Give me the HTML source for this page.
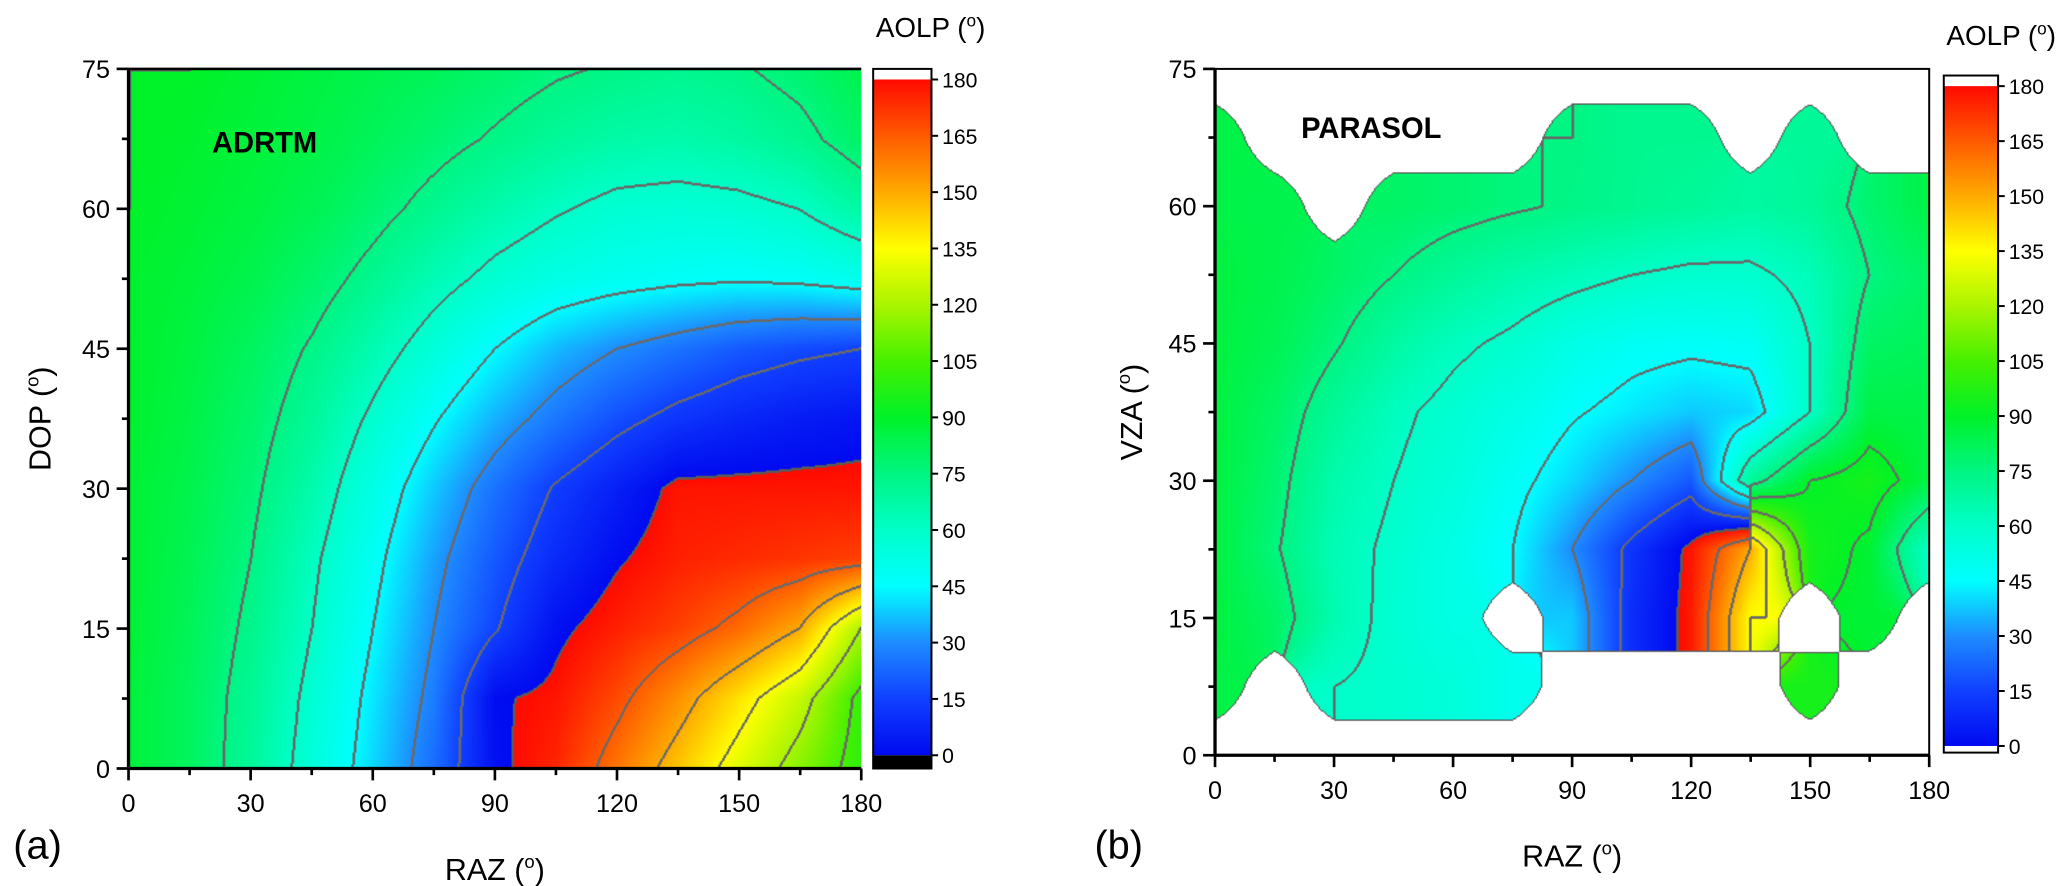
<!DOCTYPE html>
<html><head><meta charset="utf-8">
<style>
html,body{margin:0;padding:0;background:#fff;}
body{width:2067px;height:886px;overflow:hidden;position:relative;font-family:"Liberation Sans",Arial,sans-serif;}
#wrap{position:absolute;left:0;top:0;width:1560px;height:669px;transform:scale(1.325);transform-origin:0 0;}
canvas{position:absolute;}
svg{position:absolute;left:0;top:0;}
</style></head>
<body>
<div id="wrap">
<canvas id="cA" width="553" height="528" style="left:97px;top:52px"></canvas>
<canvas id="cB" width="539" height="518" style="left:917px;top:52px"></canvas>
<svg id="ov" width="1560" height="669"></svg>
</div>
<script>
// AOLP values (deg) on grid: rows DOP/VZA 75 -> 0 step 7.5, cols RAZ 0 -> 180 step 15
const razCols=[0,15,30,45,60,75,90,105,120,135,150,165,180];
const zaRows=[75,67.5,60,52.5,45,37.5,30,22.5,15,7.5,0];
const adrtm=[
[90,90,88,86,84,82,79,76,74,72,74,78,84],
[90,89,87,85,82,78,74,70,67,66,68,72,80],
[90,88,86,83,78,72,66,61,57,56,57,60,68],
[89,87,84,79,72,64,57,52,49,47,46,47,50],
[89,86,81,74,65,55,45,36,30,25,20,17,15],
[89,85,79,70,58,46,35,26,18,12,8,5,3],
[88,84,77,66,52,38,25,14,6,178,178,178,178],
[88,83,75,62,48,33,20,9,1,176,174,172,170],
[88,82,73,60,45,30,16,2,176,170,162,150,120],
[87,81,71,57,42,27,1,178,168,155,140,125,102],
[87,81,70,55,40,24,2,175,160,145,130,115,100]];
const parasol=[
[null,null,null,null,null,null,null,null,null,null,null,null,null],
[85,null,null,null,null,null,75,72,72,null,70,null,null],
[85,84,null,80,78,76,74,72,70,68,70,78,85],
[86,84,80,75,70,66,63,60,58,58,63,75,80],
[86,83,76,68,62,58,52,48,47,48,60,80,82],
[86,80,70,62,57,52,46,42,38,40,60,85,85],
[86,78,66,60,55,48,40,30,20,70,90,95,85],
[86,76,64,58,52,45,30,12,178,150,95,88,60],
[86,80,65,57,52,null,38,10,177,135,null,88,null],
[85,null,60,58,55,50,null,null,null,null,95,null,null],
[null,null,null,null,null,null,null,null,null,null,null,null,null]];
const xTicks=[0,30,60,90,120,150,180];
const yTicks=[0,15,30,45,60,75];
const cbTicks=[0,15,30,45,60,75,90,105,120,135,150,165,180];

const stops=[[0,[0,10,240]],[15,[16,64,255]],[30,[30,140,255]],[45,[0,255,255]],[60,[0,255,200]],[75,[0,245,130]],[90,[0,242,40]],[105,[70,240,0]],[120,[170,245,0]],[135,[255,255,0]],[150,[255,170,0]],[165,[255,90,0]],[180,[255,10,0]]];
function cmap(v){v=Math.max(0,Math.min(180,v));for(let i=0;i<stops.length-1;i++){const a=stops[i],b=stops[i+1];if(v<=b[0]){const t=(v-a[0])/(b[0]-a[0]);return a[1].map((c,k)=>Math.round(c+(b[1][k]-c)*t));}}return stops[stops.length-1][1];}

function sample(grid,x,y){
  const fx=x/15, fy=(75-y)/7.5;
  let i=Math.min(11,Math.floor(fx)), j=Math.min(9,Math.floor(fy));
  const tx=fx-i, ty=fy-j;
  const c=[grid[j][i],grid[j][i+1],grid[j+1][i],grid[j+1][i+1]];
  const w=[(1-tx)*(1-ty),tx*(1-ty),(1-tx)*ty,tx*ty];
  let m=0;const nn=[];
  for(let k=0;k<4;k++)if(c[k]!==null){m+=w[k];nn.push(c[k]);}
  if(m<0.5) return null;
  const wrap=Math.max(...nn)-Math.min(...nn)>90;
  let s=0;
  for(let k=0;k<4;k++)if(c[k]!==null){let v=c[k];if(wrap&&v<90)v+=180;s+=v*w[k];}
  let v=s/m; if(v>=180)v-=180;
  return v;
}
function render(id,grid){
  const cv=document.getElementById(id),W=cv.width,H=cv.height,ctx=cv.getContext('2d');
  const img=ctx.createImageData(W,H),V=new Float32Array(W*H),G=new Uint8Array(W*H);
  for(let py=0;py<H;py++)for(let px=0;px<W;px++){
    const v=sample(grid,180*px/(W-1),75*(1-py/(H-1)));V[py*W+px]=(v===null?NaN:v);}
  for(let py=0;py<H;py++)for(let px=0;px<W;px++){
    const k=py*W+px,v=V[k];if(isNaN(v))continue;
    const nb=[];if(px<W-1)nb.push(k+1);if(py<H-1)nb.push(k+W);if(px>0)nb.push(k-1);if(py>0)nb.push(k-W);
    for(const q of nb){const n=V[q];
      if(isNaN(n)){G[k]=2;}
      else if(Math.abs(n-v)>90){G[k]=2;}
      else if(q>k&&Math.floor(n/15)!==Math.floor(v/15)){if(!G[k])G[k]=1;if(!G[q])G[q]=1;}}
  }
  for(let k=0;k<W*H;k++){
    const v=V[k];let col;
    if(isNaN(v))col=[255,255,255];
    else if(G[k]===2)col=[90,90,90];
    else if(G[k]===1)col=[105,105,105];
    else col=cmap(v);
    img.data[k*4]=col[0];img.data[k*4+1]=col[1];img.data[k*4+2]=col[2];img.data[k*4+3]=255;
  }
  ctx.putImageData(img,0,0);
}
render('cA',adrtm);render('cB',parasol);

const NS='http://www.w3.org/2000/svg',svg=document.getElementById('ov');
function el(t,a,txt){const e=document.createElementNS(NS,t);for(const k in a)e.setAttribute(k,a[k]);if(txt!==undefined)e.textContent=txt;svg.appendChild(e);return e;}

function axes(p){
  const xs=v=>p.x0+(p.x1-p.x0)*v/180, ys=v=>p.y1-(p.y1-p.y0)*v/75;
  const f=el('rect',{x:p.x0,y:p.y0,width:p.x1-p.x0,height:p.y1-p.y0,fill:'none',stroke:'#000','stroke-width':p.box?1.5:0});
  
  let l=el('line',{x1:p.x0,y1:p.y1,x2:p.x1,y2:p.y1,stroke:'#000','stroke-width':2.5});
  
  l=el('line',{x1:p.x0,y1:p.y0,x2:p.x0,y2:p.y1,stroke:'#000','stroke-width':2.5});
  
  if(!p.box){l=el('line',{x1:p.x0,y1:p.y0,x2:p.x1,y2:p.y0,stroke:'#000','stroke-width':2});}
  for(let v=0;v<=180;v+=15){const x=xs(v);el('line',{x1:x,y1:p.y1,x2:x,y2:p.y1+(v%30?5:9),stroke:'#000','stroke-width':2});}
  for(let v=0;v<=75;v+=7.5){const y=ys(v);el('line',{x1:p.x0,y1:y,x2:p.x0-(v%15?5:9),y2:y,stroke:'#000','stroke-width':2});}
  xTicks.forEach(v=>{const t=el('text',{x:xs(v),y:p.y1+33,'text-anchor':'middle','font-size':19},v);
    });
  yTicks.forEach(v=>{const t=el('text',{x:p.x0-14,y:ys(v)+7,'text-anchor':'end','font-size':19},v);
    });
  let t=el('text',{x:(p.x0+p.x1)/2,y:p.y1+84,'text-anchor':'middle','font-size':23});
  t.innerHTML='RAZ (<tspan font-size="14" dy="-9">o</tspan><tspan dy="9">)</tspan>';
  
  t=el('text',{x:0,y:0,'text-anchor':'middle','font-size':23,transform:`translate(${p.yt},${(p.y0+p.y1)/2}) rotate(-90)`});
  t.innerHTML=p.yl+' (<tspan font-size="14" dy="-9">o</tspan><tspan dy="9">)</tspan>';
  
  t=el('text',{x:p.lx,y:p.ly,'font-size':22,'font-weight':'bold'},p.label);
  
  t=el('text',{x:p.px,y:648,'font-size':30},p.pl);
  
}
axes({n:'adrtm',x0:97,x1:650,y0:52,y1:580,box:false,yl:'DOP',yt:38,label:'ADRTM',lx:160,ly:115,pl:'(a)',px:10});
axes({n:'parasol',x0:917,x1:1456,y0:52,y1:570,box:true,yl:'VZA',yt:862,label:'PARASOL',lx:982,ly:104,pl:'(b)',px:826});

function colorbar(c){
  const g=el('defs',{});
  const lg=document.createElementNS(NS,'linearGradient');lg.setAttribute('id','g'+c.n);
  lg.setAttribute('x1',0);lg.setAttribute('y1',1);lg.setAttribute('x2',0);lg.setAttribute('y2',0);
  for(let v=0;v<=180;v+=5){const s=document.createElementNS(NS,'stop');s.setAttribute('offset',v/180);s.setAttribute('stop-color','rgb('+cmap(v).join(',')+')');lg.appendChild(s);}
  g.appendChild(lg);
  let r=el('rect',{x:c.x,y:c.top,width:c.w,height:c.bot-c.top,fill:'#fff'});
  
  el('rect',{x:c.x,y:c.v180,width:c.w,height:c.v0-c.v180,fill:'url(#g'+c.n+')'});
  if(c.black)el('rect',{x:c.x,y:c.v0,width:c.w,height:c.bot-c.v0,fill:'#000'});
  el('rect',{x:c.x,y:c.top,width:c.w,height:c.bot-c.top,fill:'none',stroke:'#000','stroke-width':1.5});
  cbTicks.forEach(v=>{const y=c.v0-(c.v0-c.v180)*v/180;
    el('line',{x1:c.x+c.w,y1:y,x2:c.x+c.w+5,y2:y,stroke:'#000','stroke-width':1.5});
    const t=el('text',{x:c.x+c.w+8,y:y+6,'font-size':16},v);
    });
  const t=el('text',{x:c.x+2,y:c.ty,'font-size':21});
  t.innerHTML='AOLP (<tspan font-size="13" dy="-8">o</tspan><tspan dy="8">)</tspan>';
  
}
colorbar({n:'adrtm',x:659,w:44,top:52,bot:580,v180:60,v0:570,black:true,ty:28});
colorbar({n:'parasol',x:1467,w:41,top:57,bot:568,v180:65,v0:563,black:false,ty:34});
</script>
</body></html>
